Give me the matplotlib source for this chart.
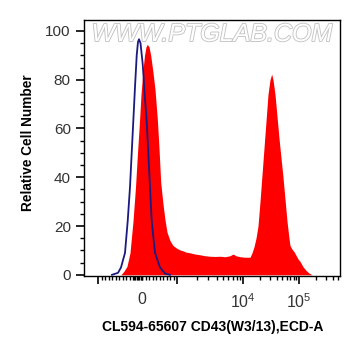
import numpy as np
import matplotlib
matplotlib.use("Agg")
from matplotlib import pyplot as plt
import matplotlib.patheffects as pe

plt.rcParams['font.family'] = ['Liberation Sans', 'DejaVu Sans']
plt.rcParams['mathtext.fontset'] = 'custom'
plt.rcParams['mathtext.rm'] = 'Liberation Sans'
plt.rcParams['mathtext.it'] = 'Liberation Sans'

# x values are display channels on the biexponential axis (84 = left edge, 340 = right edge)
red_x = [121, 124, 127, 130, 133, 135.5, 137.5, 139.5, 141, 143, 144.5, 146, 147.3,
         149, 150.7, 153, 155, 157.3, 159, 160.7, 163, 165, 167, 170, 173, 177, 180,
         183, 186, 190, 195, 200, 205, 210, 215, 220, 225, 230, 233, 236, 240, 245,
         250, 252, 254, 256, 258, 260, 262, 264, 266, 268, 270, 271.7, 273, 275, 277,
         279, 281, 283, 285, 287, 289, 290, 292, 294, 296, 298, 300, 303, 306, 309, 312]
red_y = [0, 1.5, 3.5, 9, 22, 36, 50, 63, 74, 84, 90, 93.5, 94.5,
         93.5, 90, 83, 76, 64, 52, 38, 29, 22.5, 17.5, 14, 12, 10.8, 10.2,
         9.8, 9.3, 9, 8.5, 8.2, 7.8, 7.6, 7.5, 7.6, 7.4, 7.8, 8.5, 7.8, 7.4, 7.2,
         7.2, 9, 11.5, 15, 20, 30, 41, 52, 63, 74, 80, 82.3, 80, 74, 65,
         56, 48, 40, 31, 22, 15, 12, 10.5, 9.5, 8, 6.5, 5.5, 3.3, 1.8, 0.7, 0]

blue_x = [112, 118, 121, 125, 127.7, 130, 131.7, 133.3, 135, 136.7, 138, 139, 140.5,
          142.7, 145, 146.7, 148.3, 150, 151.7, 155, 160, 165, 170]
blue_y = [0, 0.8, 3, 9, 22, 36, 50, 63, 77, 90, 95.5, 96.6, 95,
          86.5, 72, 63, 50, 36, 22, 9, 3, 0.5, 0]

major_ticks = [98, 177, 243, 299]
tick_labels = {142: "0", 243: "$10^4$", 299: "$10^5$"}

fig = plt.figure(figsize=(3.61, 3.56), dpi=100)
ax = fig.add_axes([84 / 361, 1 - 276 / 356, 256 / 361, 256 / 356])

ax.fill_between(red_x, red_y, 0, color="#ff0000", linewidth=0, zorder=2)
ax.plot(blue_x, blue_y, color="#1a1a80", linewidth=1.3, zorder=3)

ax.set_xlim(84, 340)
ax.set_ylim(-0.5, 104.5)

# biexponential style minor ticks
minor = list(np.linspace(98, 133, 11)) + list(np.arange(134, 142.5, 1.3))
minor += list(np.linspace(142, 177, 11))
minor += [177 + 66 * np.log10(k) for k in range(2, 10)]
minor += [243 + 56 * np.log10(k) for k in range(2, 10)]
minor += [299 + 56 * np.log10(k) for k in range(2, 6)]
ax.set_xticks(major_ticks)
ax.set_xticklabels([])
ax.set_xticks(minor, minor=True)
for xpos, lab in tick_labels.items():
    ax.text(xpos, -7, lab, ha="center", va="top", fontsize=11.5, color="#333333",
            transform=ax.transData)

ax.set_yticks([0, 20, 40, 60, 80, 100])
ax.set_yticks(np.arange(0, 105, 5), minor=True)
ax.tick_params(axis="both", which="major", length=6, width=1.2, direction="out",
               labelsize=11, labelcolor="#333333")
ax.tick_params(axis="both", which="minor", length=3, width=1, direction="out")
for s in ax.spines.values():
    s.set_linewidth(1)

fig.text(28 / 361, 1 - 143 / 356, "Relative Cell Number", rotation=90, ha="center",
         va="center", fontsize=9.8, fontweight="bold")
fig.text(213 / 361, 1 - 327 / 356, "CL594-65607 CD43(W3/13),ECD-A", ha="center",
         va="center", fontsize=10, fontweight="bold")

ax.text(0.5, 0.945, "WWW.PTGLAB.COM", transform=ax.transAxes, ha="center",
        va="center", fontsize=18, style="italic", color="white", zorder=1,
        path_effects=[pe.withStroke(linewidth=1.3, foreground="#c4c4c4")])

fig.savefig("out.png", dpi=100)
